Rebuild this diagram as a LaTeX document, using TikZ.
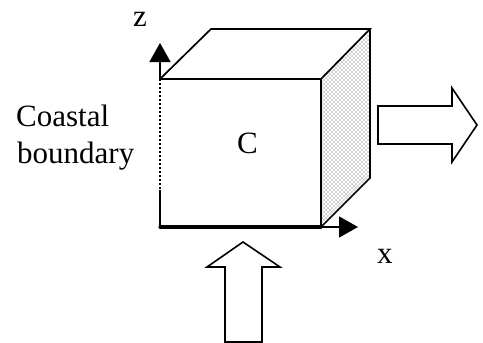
\documentclass[tikz,border=0pt]{standalone}
\usepackage{fontspec}
\setmainfont{Liberation Serif}
\usetikzlibrary{arrows.meta}
\tikzset{
  edge3d/.style={draw=black,line width=1.7pt,line join=miter},
  axis/.style={draw=black,line width=1.4pt,-{Triangle[length=19pt,width=21pt]}},
  flow/.style={draw=black,fill=white,line width=1.6pt,line join=miter},
  lbl/.style={font=\fontsize{31}{36}\selectfont,anchor=base west,inner sep=0pt},
}
\begin{document}
\begin{tikzpicture}[x=1pt,y=-1pt]
\useasboundingbox[fill=white] (0,0) rectangle (483,343);
\coordinate (ftl) at (160,79);
\coordinate (ftr) at (321,79);
\coordinate (fbl) at (160,227);
\coordinate (fbr) at (321,227);
\coordinate (btl) at (211,29);
\coordinate (btr) at (370,29);
\coordinate (bbr) at (370,178);
\coordinate (zdot) at (160,190);
\coordinate (ztip) at (160,43);
\coordinate (xtip) at (358,227);
\begin{scope}
\clip (ftr) -- (btr) -- (bbr) -- (fbr) -- cycle;
\foreach \i in {0,...,24} \foreach \j in {0,...,100} {
  \pgfmathtruncatemacro{\odd}{mod(\i+\j,2)}
  \ifnum\odd=0
    \fill[black!18] (321+2*\i,29+2*\j) rectangle ++(2,2);
  \fi
}
\end{scope}
\draw[axis] (ftl) -- (ztip);
\draw[axis] (fbr) -- (xtip);
\draw[edge3d] (ftl) -- (ftr) -- (fbr);
\draw[edge3d] (ftl) -- (btl) -- (btr) -- (ftr);
\draw[edge3d] (btr) -- (bbr) -- (fbr);
\draw[edge3d] (zdot) -- (fbl);
\draw[edge3d,line width=3.2pt,line cap=round] (fbl) -- (fbr);
\draw[black,line width=1.5pt,dash pattern=on 2pt off 2pt] (ftl) -- (zdot);
\draw[flow] (378,106) -- (452,106) -- (452,88) -- (477,125) -- (452,162) -- (452,144) -- (378,144) -- cycle;
\draw[flow] (225,342) -- (225,267) -- (207,267) -- (243,242) -- (280,267) -- (262,267) -- (262,342) -- cycle;
\node[lbl] (zlabel) at (133,26) {z};
\node[lbl] (xlabel) at (377,263) {x};
\node[lbl] (clabel) at (237,153) {C};
\node[lbl] (coast1) at (16,126) {Coastal};
\node[lbl] (coast2) at (17,163) {boundary};
\end{tikzpicture}
\end{document}
